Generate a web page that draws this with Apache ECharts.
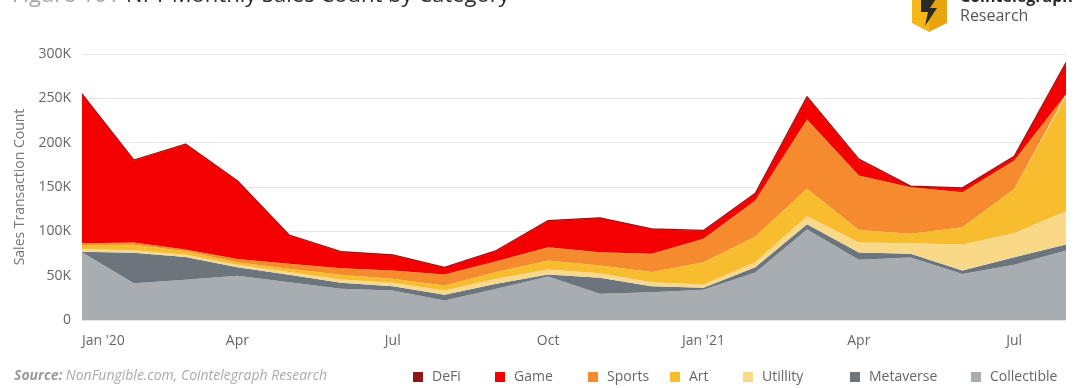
<!DOCTYPE html>
<html>
<head>
<meta charset="utf-8">
<script src="https://cdn.jsdelivr.net/npm/echarts@6/dist/echarts.min.js"></script>
<style>
html,body{margin:0;padding:0;background:#fff;}
#c{width:1080px;height:388px;}
</style>
</head>
<body>
<div id="c"></div>
<script>
// ---- Data (values in transactions) ----
const categories = ["Jan '20","Feb","Mar","Apr","May","Jun","Jul","Aug","Sep","Oct","Nov","Dec",
  "Jan '21","Feb","Mar","Apr","May","Jun","Jul","Aug"];
const collectible = [76500,41500,45500,50000,42700,35200,33300,22000,35200,49000,29600,31400,34100,53500,102000,68000,70500,52000,62300,78400];
const metaverse   = [500,34300,25500,9500,8300,6800,4900,6500,5700,2300,18000,6800,2300,6000,6000,8000,4200,3800,8500,6700];
const utility     = [3000,3000,2500,2700,3000,3700,3800,4800,5600,5700,5200,4500,3700,5700,9000,11500,12000,29300,27000,37500];
const art         = [4500,6000,4000,3000,3800,5300,4500,5700,7500,10100,8700,11300,25100,29000,31000,14000,10500,19500,50000,130000];
const sports      = [2000,2700,2000,3500,5600,7500,9300,12300,12300,15000,15000,20700,26300,40500,78000,61500,52500,39400,32000,2000];
const game        = [168000,92500,118500,88000,32000,18200,17200,7500,11600,29500,38200,27600,9000,7500,25000,17500,800,4500,4300,35300];
const defi        = [500,500,500,500,500,500,500,500,500,500,500,500,500,800,1000,1000,500,500,500,500];
const yTicks = [0,50000,100000,150000,200000,250000,300000];

const seriesDefs = [
  {name:'Collectible', data:collectible, color:'#A8ADB2'},
  {name:'Metaverse',   data:metaverse,   color:'#6D757C'},
  {name:'Utillity',    data:utility,     color:'#F9D888'},
  {name:'Art',         data:art,         color:'#F8BD2F'},
  {name:'Sports',      data:sports,      color:'#F68A2E'},
  {name:'Game',        data:game,        color:'#F50000'},
  {name:'DeFi',        data:defi,        color:'#8E1616'}
];

const FONT = '"Open Sans", "Noto Sans", sans-serif';
const chart = echarts.init(document.getElementById('c'), null, {renderer:'canvas'});

const legendOrder = ['DeFi','Game','Sports','Art','Utillity','Metaverse','Collectible'];
const legendLeft  = [408, 490, 583, 665, 738, 845, 966];
const legends = legendOrder.map((n,i)=>({
  data:[n], left:legendLeft[i], top:365, itemWidth:10, itemHeight:10, icon:'rect',
  selectedMode:false,
  textStyle:{fontFamily:FONT, fontSize:14, color:'#666', padding:[0,0,0,4]}
}));

chart.setOption({
  animation:false,
  textStyle:{fontFamily:FONT},
  grid:{left:82, right:14, top:54, bottom:68},
  legend: legends,
  xAxis:{
    type:'category', data:categories, boundaryGap:false,
    axisLine:{show:false}, axisTick:{show:false},
    axisLabel:{interval:2, margin:14, fontSize:14, color:'#666', fontFamily:FONT, alignMinLabel:'left'},
    splitLine:{show:false}
  },
  yAxis:{
    type:'value', min:yTicks[0], max:yTicks[yTicks.length-1], interval:50000,
    name:'Sales Transaction Count', nameLocation:'middle', nameGap:54, nameRotate:90,
    nameTextStyle:{fontSize:14, color:'#777', fontFamily:FONT},
    axisLine:{show:false}, axisTick:{show:false},
    axisLabel:{margin:11, fontSize:14, color:'#666', fontFamily:FONT,
      formatter:v=> v===0 ? '0' : (v/1000)+'K'},
    splitLine:{lineStyle:{color:'#E4E4E4', width:1}}
  },
  series: seriesDefs.map(s=>({
    name:s.name, type:'line', stack:'total', data:s.data, showSymbol:false, symbol:'none',
    itemStyle:{color:s.color},
    lineStyle: s.name==='DeFi' ? {width:1.2, color:s.color} : {width:0},
    areaStyle:{color:s.color, opacity:1}
  })),
  graphic:[
    {type:'text', left:12, top:-15, style:{
      text:'{a|Figure 16 / }{b|NFT Monthly Sales Count by Category}',
      rich:{
        a:{fontFamily:FONT, fontSize:22, fill:'#A6A6A6', fontWeight:'normal'},
        b:{fontFamily:FONT, fontSize:22, fill:'#2B2B2B', fontWeight:'normal'}
      }}},
    {type:'polygon', shape:{points:[[912,-4],[929,-4],[929,32],[912,23]]}, style:{fill:'#F6B817'}},
    {type:'polygon', shape:{points:[[929,-4],[947,-4],[947,23],[929,32]]}, style:{fill:'#E8A510'}},
    {type:'polygon', shape:{points:[[921,-4],[938,-4],[930,8],[937,8],[925,26],[928,12],[921,12]]}, style:{fill:'#2A2A2A'}},
    {type:'text', left:960, top:-11, style:{text:'Cointelegraph', fontFamily:FONT, fontSize:16, fontWeight:'bold', fill:'#2A2A2A'}},
    {type:'text', left:960, top:8, style:{text:'Research', fontFamily:FONT, fontSize:16, fill:'#555'}},
    {type:'text', left:14, top:369, style:{
      text:'{a|Source:} {b|NonFungible.com, Cointelegraph Research}',
      rich:{
        a:{fontFamily:FONT, fontSize:14, fontStyle:'italic', fontWeight:'bold', fill:'#9A9A9A'},
        b:{fontFamily:FONT, fontSize:14, fontStyle:'italic', fill:'#AAAAAA'}
      }}}
  ]
});
</script>
</body>
</html>
